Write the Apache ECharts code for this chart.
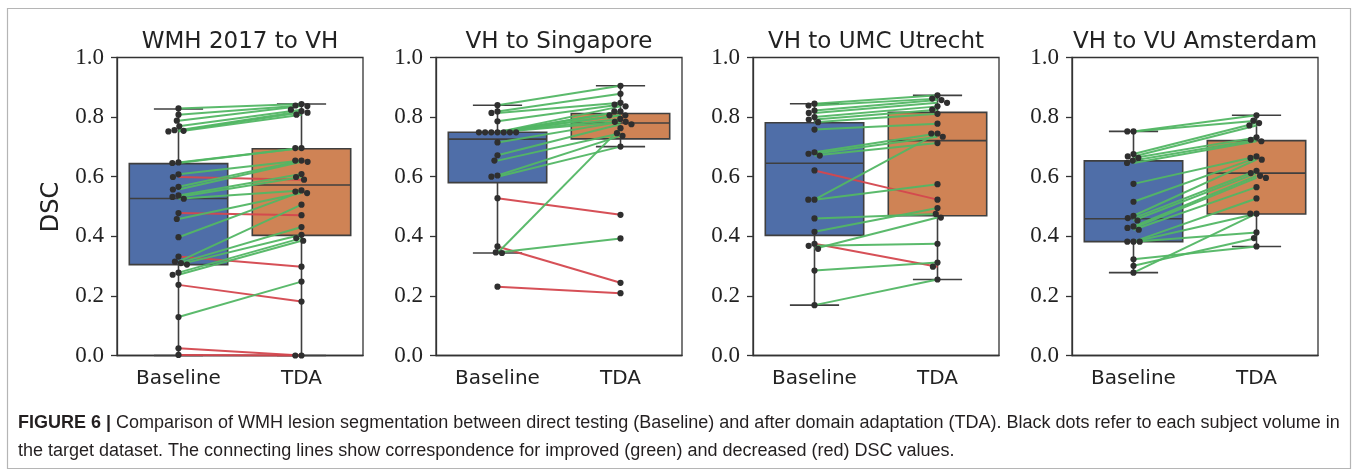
<!DOCTYPE html>
<html><head><meta charset="utf-8">
<script src="https://cdn.jsdelivr.net/npm/echarts@6/dist/echarts.min.js"></script>
<style>html,body{margin:0;padding:0;background:#fff}#c{width:1358px;height:475px}</style>
</head><body><div id="c"></div>
<script>
// ---------- data ----------
const categories = ['Baseline', 'TDA'];
const panelTitles = ['WMH 2017 to VH', 'VH to Singapore', 'VH to UMC Utrecht', 'VH to VU Amsterdam'];
const yTickValues = [0.0, 0.2, 0.4, 0.6, 0.8, 1.0];
const yAxisTitle = 'DSC';
const captionBold = 'FIGURE 6 |';
const captionLine1 = ' Comparison of WMH lesion segmentation between direct testing (Baseline) and after domain adaptation (TDA). Black dots refer to each subject volume in';
const captionLine2 = 'the target dataset. The connecting lines show correspondence for improved (green) and decreased (red) DSC values.';

// panel 1: WMH 2017 to VH (paired per subject)
const p1Baseline = [0.829,0.808,0.788,0.769,0.756,0.754,0.752,0.648,0.646,0.608,0.599,0.566,0.557,0.537,0.532,0.526,0.478,0.458,0.397,0.332,0.315,0.310,0.305,0.278,0.271,0.237,0.129,0.024,0.002];
const p1TDA      = [0.844,0.839,0.837,0.825,0.820,0.815,0.808,0.696,0.696,0.654,0.590,0.654,0.650,0.609,0.599,0.554,0.471,0.545,0.550,0.298,0.506,0.431,0.405,0.394,0.385,0.181,0.248,0.000,0.000];
// box stats [whiskerLow, Q1, median, Q3, whiskerHigh]
const p1BoxBaseline = [0.000, 0.305, 0.527, 0.644, 0.827];
const p1BoxTDA      = [0.000, 0.403, 0.572, 0.694, 0.844];

// panel 2: VH to Singapore
const p2Baseline = [0.840,0.819,0.814,0.786,0.749,0.749,0.749,0.749,0.749,0.749,0.749,0.715,0.672,0.654,0.604,0.600,0.528,0.366,0.346,0.344,0.231];
const p2TDA      = [0.905,0.878,0.848,0.842,0.836,0.819,0.819,0.806,0.806,0.794,0.784,0.784,0.776,0.746,0.737,0.701,0.472,0.244,0.393,0.763,0.209];
const p2BoxBaseline = [0.344, 0.580, 0.726, 0.749, 0.840];
const p2BoxTDA      = [0.701, 0.727, 0.780, 0.812, 0.905];

// panel 3: VH to UMC Utrecht
const p3Baseline = [0.845,0.839,0.822,0.814,0.800,0.792,0.783,0.758,0.682,0.677,0.671,0.621,0.523,0.523,0.460,0.415,0.375,0.368,0.358,0.285,0.169];
const p3TDA      = [0.873,0.862,0.857,0.848,0.836,0.825,0.811,0.778,0.745,0.734,0.713,0.523,0.745,0.575,0.475,0.495,0.298,0.375,0.463,0.312,0.255];
const p3BoxBaseline = [0.169, 0.403, 0.645, 0.781, 0.845];
const p3BoxTDA      = [0.255, 0.469, 0.721, 0.816, 0.873];

// panel 4: VH to VU Amsterdam
const p4Baseline = [0.752,0.752,0.676,0.668,0.663,0.654,0.646,0.576,0.516,0.469,0.461,0.453,0.433,0.428,0.422,0.382,0.382,0.382,0.323,0.301,0.278];
const p4TDA      = [0.806,0.788,0.780,0.772,0.732,0.724,0.719,0.668,0.663,0.657,0.620,0.612,0.603,0.596,0.565,0.527,0.476,0.413,0.366,0.394,0.476];
const p4BoxBaseline = [0.278, 0.382, 0.459, 0.653, 0.752];
const p4BoxTDA      = [0.366, 0.475, 0.612, 0.721, 0.806];

// ---------- styling / layout ----------
const panels = [
  {title: panelTitles[0], base: p1Baseline, tda: p1TDA, boxes: [p1BoxBaseline, p1BoxTDA]},
  {title: panelTitles[1], base: p2Baseline, tda: p2TDA, boxes: [p2BoxBaseline, p2BoxTDA]},
  {title: panelTitles[2], base: p3Baseline, tda: p3TDA, boxes: [p3BoxBaseline, p3BoxTDA]},
  {title: panelTitles[3], base: p4Baseline, tda: p4TDA, boxes: [p4BoxBaseline, p4BoxTDA]}
];
const gridLefts = [117, 436, 753, 1072];
const gridW = 246, gridTop = 57.5, gridH = 298;
const boxColors = ['#4f6ea8', '#cf8355'];
const edgeColor = '#3f3f3f';
const upColor = '#52b664';
const downColor = '#d4474e';
const dotColor = '#2f2f2f';
const SERIF = '"Liberation Serif", "DejaVu Serif", serif';
const SANS = '"DejaVu Sans", "Open Sans", sans-serif';
const CAPFONT = '"Liberation Sans", Arial, sans-serif';

function renderBox(params, api) {
  const ci = api.value(0);
  const mn = api.value(1), q1 = api.value(2), md = api.value(3), q3 = api.value(4), mx = api.value(5);
  const x = api.coord([ci, 0])[0];
  const band = api.size([1, 0])[0];
  const bw = band * 0.8, cw = band * 0.4;
  const y = v => api.coord([ci, v])[1];
  const ls = {stroke: edgeColor, lineWidth: 1.6, fill: null};
  return {type: 'group', children: [
    {type: 'line', shape: {x1: x, y1: y(q3), x2: x, y2: y(mx)}, style: ls},
    {type: 'line', shape: {x1: x, y1: y(q1), x2: x, y2: y(mn)}, style: ls},
    {type: 'line', shape: {x1: x - cw / 2, y1: y(mx), x2: x + cw / 2, y2: y(mx)}, style: ls},
    {type: 'line', shape: {x1: x - cw / 2, y1: y(mn), x2: x + cw / 2, y2: y(mn)}, style: ls},
    {type: 'rect', shape: {x: x - bw / 2, y: y(q3), width: bw, height: y(q1) - y(q3)},
      style: {fill: boxColors[ci], stroke: edgeColor, lineWidth: 1.6}},
    {type: 'line', shape: {x1: x - bw / 2, y1: y(md), x2: x + bw / 2, y2: y(md)}, style: ls}
  ]};
}

function renderPair(params, api) {
  const b = api.value(1), t = api.value(2);
  const p0 = api.coord([0, b]), p1 = api.coord([1, t]);
  return {type: 'line', shape: {x1: p0[0], y1: p0[1], x2: p1[0], y2: p1[1]},
    style: {stroke: t > b ? upColor : downColor, lineWidth: 2, opacity: 0.95}};
}

function swarm(values, api, ci) {
  const d = 6.2;
  const pts = values.map((v, i) => ({i, y: api.coord([ci, v])[1], x: 0}));
  const order = pts.slice().sort((a, b) => a.y - b.y);
  const placed = [];
  const off = new Array(values.length).fill(0);
  for (const p of order) {
    const near = placed.filter(q => Math.abs(q.y - p.y) < d);
    const cands = [0];
    for (const q of near) {
      const dx = Math.sqrt(d * d - (q.y - p.y) * (q.y - p.y));
      cands.push(q.x + dx, q.x - dx);
    }
    cands.sort((a, b) => (Math.abs(a) - Math.abs(b)) || (a - b));
    let chosen = 0;
    for (const c of cands) {
      if (near.every(q => (q.x - c) * (q.x - c) + (q.y - p.y) * (q.y - p.y) >= d * d - 1e-6)) { chosen = c; break; }
    }
    p.x = chosen; placed.push(p); off[p.i] = chosen;
  }
  return off;
}

function makeDotRenderer(panel) {
  return function (params, api) {
    const ci = api.value(0), v = api.value(1), idx = api.value(2);
    const vals = ci === 0 ? panel.base : panel.tda;
    const off = swarm(vals, api, ci);
    const c = api.coord([ci, v]);
    return {type: 'circle', shape: {cx: c[0] + off[idx], cy: c[1], r: 3.1}, style: {fill: dotColor}};
  };
}

const grids = [], xAxes = [], yAxes = [], series = [], graphics = [];
panels.forEach((p, k) => {
  grids.push({left: gridLefts[k], top: gridTop, width: gridW, height: gridH,
    show: true, borderColor: '#333', borderWidth: 1.3, backgroundColor: 'transparent'});
  xAxes.push({type: 'category', gridIndex: k, data: categories,
    axisLine: {lineStyle: {color: '#333', width: 1.3}},
    axisTick: {alignWithLabel: true, length: 6, lineStyle: {color: '#333', width: 1.3}},
    axisLabel: {fontFamily: SANS, fontSize: 20, color: '#222', margin: 13}});
  yAxes.push({type: 'value', gridIndex: k, min: 0, max: 1, interval: 0.2,
    splitLine: {show: false},
    axisLine: {show: true, lineStyle: {color: '#333', width: 1.3}},
    axisTick: {show: true, length: 6, lineStyle: {color: '#333', width: 1.3}},
    axisLabel: {fontFamily: SERIF, fontSize: 23, color: '#222', margin: 13,
      formatter: v => yTickValues.some(t => Math.abs(t - v) < 1e-9) ? v.toFixed(1) : ''}});
  series.push({type: 'custom', xAxisIndex: k, yAxisIndex: k, z: 1, renderItem: renderBox,
    encode: {x: 0, y: [1, 2, 3, 4, 5]},
    data: p.boxes.map((b, ci) => [ci].concat(b))});
  series.push({type: 'custom', xAxisIndex: k, yAxisIndex: k, z: 2, renderItem: renderPair,
    encode: {x: 0, y: [1, 2]},
    data: p.base.map((b, i) => [0, b, p.tda[i]])});
  const dots = [];
  p.base.forEach((v, i) => dots.push([0, v, i]));
  p.tda.forEach((v, i) => dots.push([1, v, i]));
  series.push({type: 'custom', xAxisIndex: k, yAxisIndex: k, z: 3, renderItem: makeDotRenderer(p),
    encode: {x: 0, y: 1}, data: dots});
  graphics.push({type: 'text', x: gridLefts[k] + gridW / 2, y: 42,
    style: {text: p.title, fontFamily: SANS, fontSize: 23, fill: '#222',
      align: 'center', verticalAlign: 'middle', textAlign: 'center', textVerticalAlign: 'middle'}});
});

graphics.push({type: 'text', x: 52, y: 207, rotation: Math.PI / 2,
  style: {text: yAxisTitle, fontFamily: SANS, fontSize: 24, fill: '#222',
    align: 'center', verticalAlign: 'middle', textAlign: 'center', textVerticalAlign: 'middle'}});
graphics.push({type: 'rect', shape: {x: 7.5, y: 8.5, width: 1343, height: 460},
  style: {fill: null, stroke: '#b5b5b5', lineWidth: 1.2}});
graphics.push({type: 'text', x: 18, y: 423,
  style: {text: '{b|' + captionBold + '}' + captionLine1, fontFamily: CAPFONT, fontSize: 18, fill: '#231f20',
    rich: {b: {fontFamily: CAPFONT, fontSize: 18, fontWeight: 'bold', fill: '#231f20'}},
    align: 'left', verticalAlign: 'middle', textAlign: 'left', textVerticalAlign: 'middle'}});
graphics.push({type: 'text', x: 18, y: 451,
  style: {text: captionLine2, fontFamily: CAPFONT, fontSize: 18, fill: '#231f20',
    align: 'left', verticalAlign: 'middle', textAlign: 'left', textVerticalAlign: 'middle'}});

const chart = echarts.init(document.getElementById('c'));
chart.setOption({
  animation: false,
  backgroundColor: '#fff',
  grid: grids, xAxis: xAxes, yAxis: yAxes, series: series, graphic: graphics
});
</script>
</body></html>
